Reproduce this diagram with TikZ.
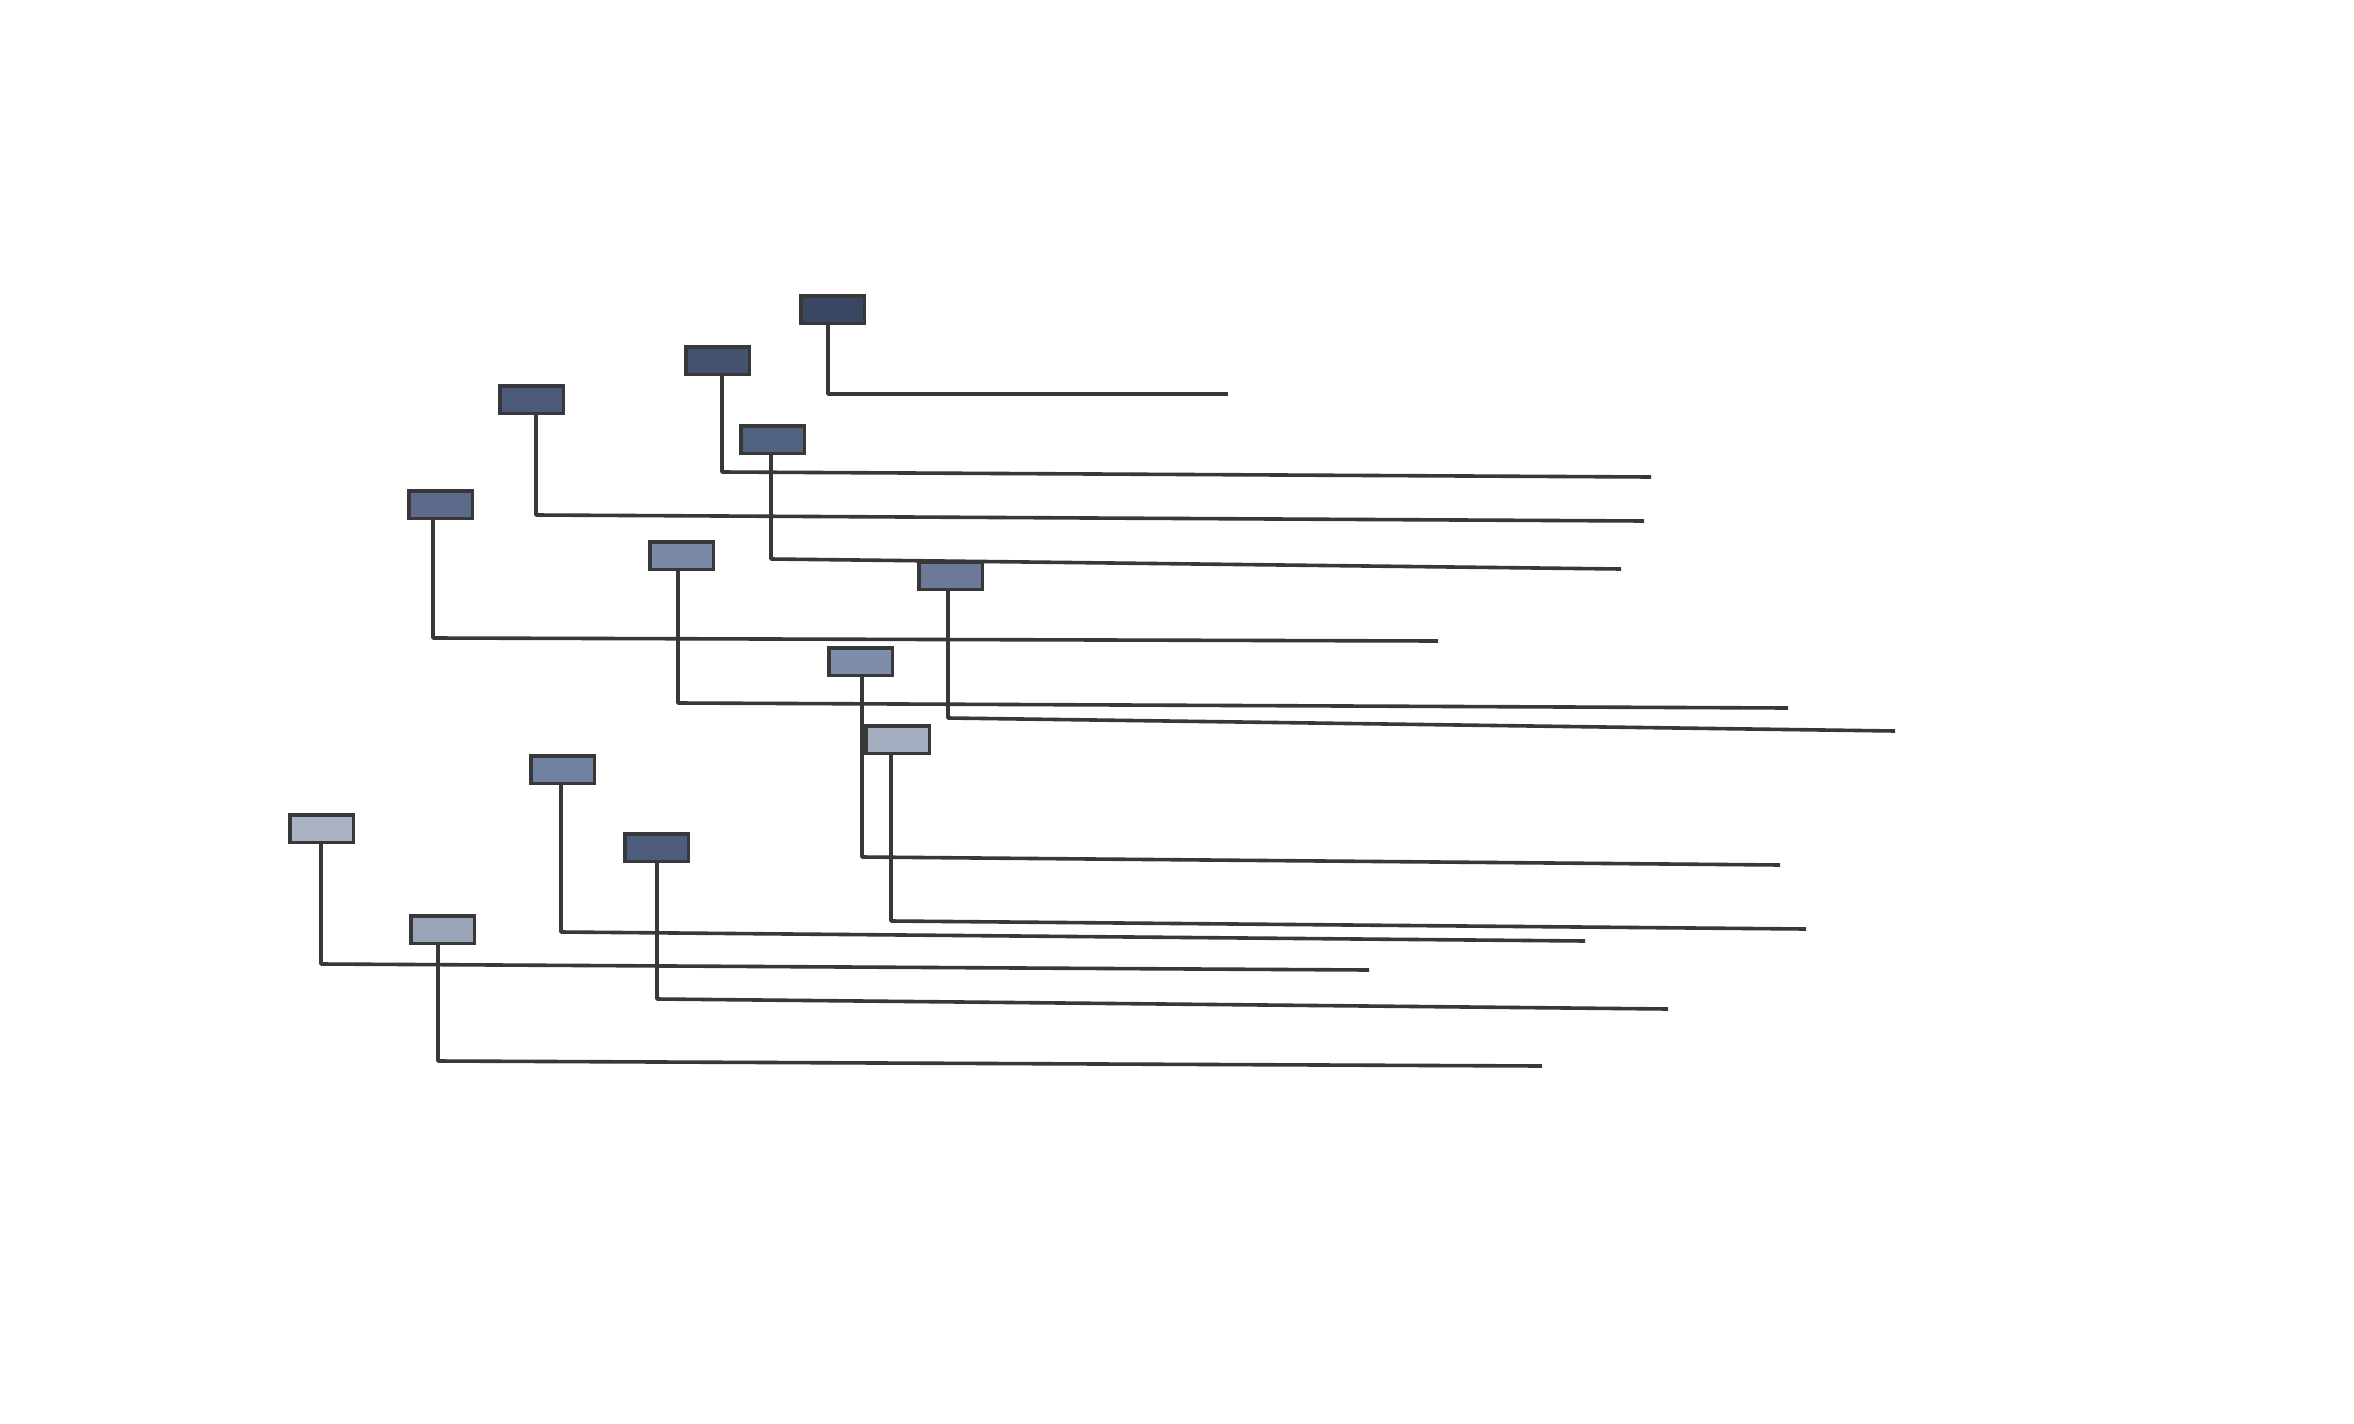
\documentclass[tikz,border=0pt]{standalone}
\begin{document}
\begin{tikzpicture}[x=1pt,y=-1pt,
  bx/.style={draw=black!78,line width=3.6pt,inner sep=0pt,minimum width=60pt,minimum height=24pt,anchor=north west},
  ln/.style={draw=black!78,line width=3.6pt,line join=round}]
\useasboundingbox[fill=white] (0,0) rectangle (2354,1424);
\definecolor{c1}{HTML}{3A4762}
\definecolor{c2}{HTML}{43526F}
\definecolor{c3}{HTML}{4A5A79}
\definecolor{c4}{HTML}{526381}
\definecolor{c5}{HTML}{5B6B89}
\definecolor{c6}{HTML}{7988A5}
\definecolor{c7}{HTML}{6A7A98}
\definecolor{c8}{HTML}{7F8EA8}
\definecolor{c9}{HTML}{A3ADBF}
\definecolor{c10}{HTML}{7181A1}
\definecolor{c11}{HTML}{A9B2C3}
\definecolor{c12}{HTML}{4C5C7C}
\definecolor{c13}{HTML}{9AA4B8}
% boxes
\node[bx,fill=c1] (b1) at (801,296) {};
\node[bx,fill=c2] (b2) at (686,347) {};
\node[bx,fill=c3] (b3) at (500,386) {};
\node[bx,fill=c4] (b4) at (741,426) {};
\node[bx,fill=c5] (b5) at (409,491) {};
\node[bx,fill=c6] (b6) at (650,542) {};
\node[bx,fill=c7] (b7) at (919,562) {};
\node[bx,fill=c8] (b8) at (829,648) {};
\node[bx,fill=c9] (b9) at (866,726) {};
\node[bx,fill=c10] (b10) at (531,756) {};
\node[bx,fill=c11] (b11) at (290,815) {};
\node[bx,fill=c12] (b12) at (625,834) {};
\node[bx,fill=c13] (b13) at (411,916) {};
% corners and ends
\coordinate (k1) at (828,394);  \coordinate (e1) at (1228,394);
\coordinate (k2) at (722,472);  \coordinate (e2) at (1651,477);
\coordinate (k3) at (536,515);  \coordinate (e3) at (1644,521);
\coordinate (k4) at (771,559);  \coordinate (e4) at (1621,569);
\coordinate (k5) at (433,638);  \coordinate (e5) at (1438,641);
\coordinate (k6) at (678,703);  \coordinate (e6) at (1788,708);
\coordinate (k7) at (948,718);  \coordinate (e7) at (1895,731);
\coordinate (k8) at (862,857);  \coordinate (e8) at (1780,865);
\coordinate (k9) at (891,921);  \coordinate (e9) at (1806,929);
\coordinate (k10) at (561,932); \coordinate (e10) at (1585,941);
\coordinate (k11) at (321,964); \coordinate (e11) at (1369,970);
\coordinate (k12) at (657,999); \coordinate (e12) at (1668,1009);
\coordinate (k13) at (438,1061); \coordinate (e13) at (1542,1066);
% connectors
\foreach \i in {1,...,13}{
  \draw[ln] (b\i.south -| k\i) -- (k\i) -- (e\i);
}
% redraw boxes on top
\foreach \i in {1,...,13}{
  \draw[draw=black!78,line width=3.6pt,fill=c\i] (b\i.north west) rectangle (b\i.south east);
}
\end{tikzpicture}
\end{document}
